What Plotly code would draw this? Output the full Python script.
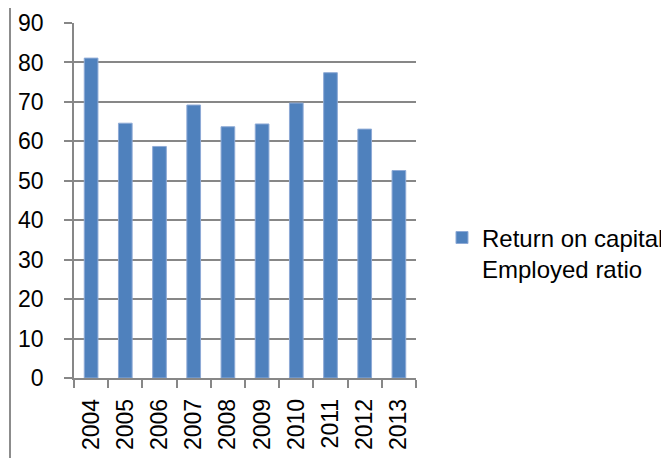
import plotly.graph_objects as go

YEARS = ["2004", "2005", "2006", "2007", "2008", "2009", "2010", "2011", "2012", "2013"]
ROCE = [81.1, 64.6, 58.7, 69.2, 63.7, 64.4, 69.7, 77.4, 63.1, 52.6]
SERIES_NAME = "Return on capital<br>Employed ratio"

FONT = "Liberation Sans"
GRID = "#878787"

fig = go.Figure()
fig.add_trace(go.Bar(
    x=YEARS,
    y=ROCE,
    name=SERIES_NAME,
    marker=dict(color="#4F81BD", line=dict(color="#8EAAD6", width=1)),
    showlegend=True,
))

# the page body adds 8px around the plot div, so margins are trimmed by that much
fig.update_layout(
    width=669,
    height=458,
    margin=dict(l=66, r=261, t=15, b=88, autoexpand=False),
    paper_bgcolor="white",
    plot_bgcolor="white",
    font=dict(family=FONT, size=23, color="black"),
    bargap=0.6,
    showlegend=True,
    legend=dict(
        x=1.076, xanchor="left",
        y=0.458, yanchor="top",
        valign="top",
        font=dict(family=FONT, size=24, color="black"),
        itemwidth=30,
        tracegroupgap=0,
    ),
    xaxis=dict(
        type="category",
        tickangle=-90,
        ticks="outside",
        tickson="boundaries",
        ticklen=8,
        tickcolor=GRID,
        tickwidth=1.5,
        showline=True,
        linecolor=GRID,
        linewidth=1.5,
        showgrid=False,
        ticklabelstandoff=10,
    ),
    yaxis=dict(
        range=[0, 90],
        dtick=10,
        ticks="outside",
        ticklen=8,
        tickcolor=GRID,
        tickwidth=1.5,
        showline=True,
        linecolor=GRID,
        linewidth=1.5,
        showgrid=True,
        gridcolor=GRID,
        gridwidth=1.5,
        zeroline=False,
        ticklabelstandoff=16,
    ),
    # chart-area border on the left edge (as far left as the div allows)
    shapes=[dict(
        type="line", xref="paper", yref="paper",
        x0=-64 / 342, x1=-64 / 342, y0=-0.25, y1=1.05,
        line=dict(color="#8C8C8C", width=2),
        layer="above",
    )],
)

fig.write_html("out.html")
